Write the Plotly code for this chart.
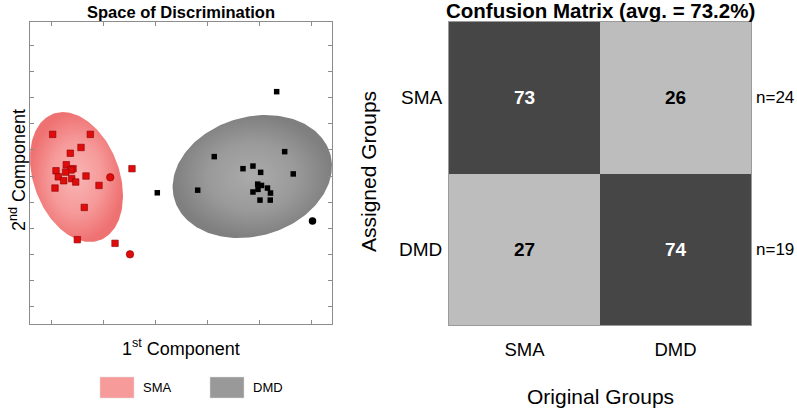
import numpy as np
import plotly.graph_objects as go

# ---------------- data ----------------
sma_x = [1.013, 1.737, 1.558, 1.352, 1.275, 1.404, 1.365, 1.077, 1.263, 1.121,
         1.654, 1.379, 1.225, 1.456, 1.904, 1.058, 2.538, 1.621, 1.487, 2.212]
sma_y = [7.59, 7.59, 7.09, 6.87, 6.43, 6.28, 6.23, 6.20, 6.15, 5.97,
         6.00, 5.90, 5.82, 5.77, 5.64, 5.54, 6.28, 4.80, 3.57, 3.43]
sma_out_x = [2.121, 2.50]
sma_out_y = [5.95, 3.01]

dmd_x = [5.321, 5.475, 4.121, 5.640, 4.673, 4.865, 5.013, 3.802, 4.956, 5.029,
         5.144, 4.865, 4.962, 5.202, 5.000, 5.198, 3.025]
dmd_y = [9.22, 6.93, 6.74, 6.08, 6.28, 6.38, 6.14, 5.46, 5.69, 5.64,
         5.54, 5.39, 5.49, 5.35, 5.08, 5.08, 5.36]
dmd_out_x = [6.01]
dmd_out_y = [4.28]

# ellipse parameters: centre (data units), semi-axes (visual units), angle (deg)
ell_groups = ["SMA", "DMD"]
ell_cx = [1.471, 4.852]
ell_cy = [5.96, 5.98]
ell_a = [67.4, 81.2]
ell_b = [42.9, 59.5]
ell_ang = [110.2, 16.5]

cm_groups = ["SMA", "DMD"]
cm_values = [[73, 26], [27, 74]]
cm_n = ["n=24", "n=19"]
x_ticks = [1, 2, 3, 4, 5, 6]
y_ticks = list(range(1, 12))

# ---------------- layout constants ----------------
W, H = 797, 409
FONT = "Arial, Liberation Sans, sans-serif"
xr = [0.577, 6.385]
yr = [0.35, 11.88]
ld_x = [30 / W, 332 / W]
ld_y = [1 - 324 / H, 1 - 22 / H]
rd_x = [449 / W, 751 / W]
rd_y = [1 - 325 / H, 1 - 22 / H]

pxx = (ld_x[1] - ld_x[0]) * W / (xr[1] - xr[0])
pxy = (ld_y[1] - ld_y[0]) * H / (yr[1] - yr[0])

fig = go.Figure()


def ellipse(cx, cy, a, b, ang):
    t = np.linspace(0, 2 * np.pi, 200)
    th = np.radians(ang)
    ex = a * np.cos(t) * np.cos(th) - b * np.sin(t) * np.sin(th)
    ey = a * np.cos(t) * np.sin(th) + b * np.sin(t) * np.cos(th)
    return cx + ex / pxx, cy + ey / pxy


ell_scales = {
    "SMA": [[0, "#fab4b4"], [0.55, "#f69a9a"], [1, "#ef7272"]],
    "DMD": [[0, "#ababab"], [0.55, "#9a9a9a"], [1, "#7f7f7f"]],
}
for g, cx, cy, a, b, ang in zip(ell_groups, ell_cx, ell_cy, ell_a, ell_b, ell_ang):
    ex, ey = ellipse(cx, cy, a, b, ang)
    fig.add_trace(go.Scatter(
        x=ex, y=ey, mode="lines", fill="toself", line=dict(width=0),
        fillgradient=dict(type="radial", colorscale=ell_scales[g]),
        xaxis="x", yaxis="y", showlegend=False, hoverinfo="skip"))

fig.add_trace(go.Scatter(x=sma_x, y=sma_y, mode="markers", xaxis="x", yaxis="y",
                         marker=dict(symbol="square", size=6.5, color="#e00c0c",
                                     line=dict(color="#8a0000", width=0.6)),
                         showlegend=False))
fig.add_trace(go.Scatter(x=sma_out_x, y=sma_out_y, mode="markers", xaxis="x", yaxis="y",
                         marker=dict(symbol="circle", size=7.5, color="#e00c0c",
                                     line=dict(color="#8a0000", width=0.6)),
                         showlegend=False))
fig.add_trace(go.Scatter(x=dmd_x, y=dmd_y, mode="markers", xaxis="x", yaxis="y",
                         marker=dict(symbol="square", size=5.5, color="#000000"),
                         showlegend=False))
fig.add_trace(go.Scatter(x=dmd_out_x, y=dmd_out_y, mode="markers", xaxis="x", yaxis="y",
                         marker=dict(symbol="circle", size=7.5, color="#000000"),
                         showlegend=False))

# confusion matrix
fig.add_trace(go.Heatmap(
    z=cm_values, x=cm_groups, y=cm_groups, xaxis="x2", yaxis="y2",
    zmin=0, zmax=100, showscale=False,
    colorscale=[[0, "#bdbdbd"], [0.5, "#bdbdbd"], [0.5, "#464646"], [1, "#464646"]],
    hoverinfo="skip"))


def txt(x, y, text, size, xref="paper", yref="paper", color="black", angle=0,
        xanchor="center"):
    return dict(x=x, y=y, xref=xref, yref=yref, text=text, showarrow=False,
                xanchor=xanchor, yanchor="middle", textangle=angle,
                font=dict(size=size, color=color, family=FONT))


ann = []
for i, row_g in enumerate(cm_groups):
    for j, col_g in enumerate(cm_groups):
        v = cm_values[i][j]
        ann.append(txt(col_g, row_g, f"<b>{v}</b>", 19, xref="x2", yref="y2",
                       color="white" if v > 50 else "black"))
    ann.append(txt(754 / W, row_g, cm_n[i], 17, yref="y2", xanchor="left"))

ann += [
    txt(181 / W, 1 - 12 / H, "<b>Space of Discrimination</b>", 16.5),
    txt(600 / W, 1 - 11 / H, "<b>Confusion Matrix (avg. = 73.2%)</b>", 20.5),
    txt(181 / W, 1 - 347 / H, "1<sup>st</sup> Component", 18),
    txt(17 / W, 1 - 170 / H, "2<sup>nd</sup> Component", 18, angle=-90),
    txt(600 / W, 1 - 396 / H, "Original Groups", 21),
    txt(369 / W, 1 - 172 / H, "Assigned Groups", 21, angle=-90),
]

# custom legend
leg_cols = ["#f79a9a", "#999999"]
leg_x0 = [100, 210]
shapes = []
for g, c, x0 in zip(ell_groups, leg_cols, leg_x0):
    shapes.append(dict(type="rect", xref="paper", yref="paper",
                       x0=x0 / W, x1=(x0 + 34) / W, y0=1 - 398 / H, y1=1 - 377 / H,
                       fillcolor=c, line=dict(width=0.5, color="#dddddd")))
    ann.append(txt((x0 + 41) / W, 1 - 387.5 / H, g, 13, xanchor="left"))

ax_common = dict(showline=True, linecolor="#8c8c8c", linewidth=1, mirror="ticks",
                 ticks="inside", ticklen=4, tickcolor="#8c8c8c",
                 showticklabels=False, showgrid=False, zeroline=False)

fig.update_layout(
    width=W, height=H, margin=dict(l=0, r=0, t=0, b=0),
    paper_bgcolor="white", plot_bgcolor="white",
    font=dict(family=FONT, color="black"),
    xaxis=dict(domain=ld_x, range=xr, tickvals=x_ticks, anchor="y", **ax_common),
    yaxis=dict(domain=ld_y, range=yr, tickvals=y_ticks, anchor="x", **ax_common),
    xaxis2=dict(domain=rd_x, anchor="y2", showgrid=False, zeroline=False,
                showline=True, linecolor="#9a9a9a", mirror=True, ticks="",
                tickfont=dict(size=18.5), ticklabelstandoff=8),
    yaxis2=dict(domain=rd_y, anchor="x2", autorange="reversed", showgrid=False,
                zeroline=False, showline=True, linecolor="#9a9a9a", mirror=True,
                ticks="", tickfont=dict(size=19), ticklabelstandoff=2),
    annotations=ann, shapes=shapes,
)

fig.write_html("out.html", config={"displayModeBar": False},
               post_script="document.body.style.margin='0';document.body.style.padding='0';")
